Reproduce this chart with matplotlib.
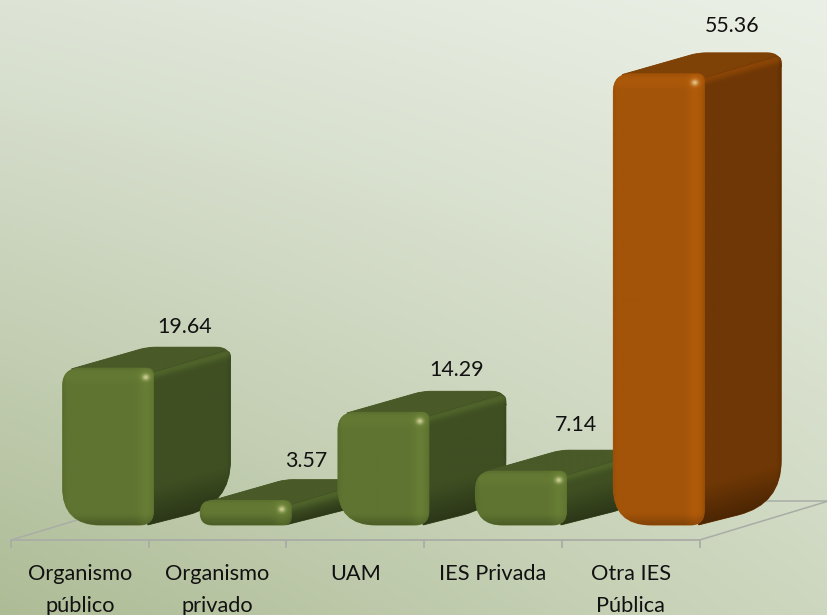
import numpy as np
import matplotlib
matplotlib.use("Agg")
import matplotlib.pyplot as plt
from matplotlib.path import Path
from matplotlib.patches import PathPatch
from matplotlib.colors import to_rgb

categories = ["Organismo\npúblico", "Organismo\nprivado", "UAM", "IES Privada", "Otra IES\nPública"]
values = [19.64, 3.57, 14.29, 7.14, 55.36]
value_labels = ["19.64", "3.57", "14.29", "7.14", "55.36"]
front_colors = ["#5F7431", "#5F7431", "#5F7431", "#5F7431", "#A35409"]
side_colors = ["#3F4F22", "#3F4F22", "#3F4F22", "#3F4F22", "#6E3705"]
top_colors = ["#4A5A28", "#4A5A28", "#4A5A28", "#4A5A28", "#7F4206"]

W, H = 827, 615
SX, SY = 137.7, 8.24      # pixels per category / per value unit
X0, Y0 = 108.0, 530.0     # pixel of category 0 / value 0
BASE = 0.6                # visual foot of the rounded bars, in value units
HALF = 45.5 / SX
DX, DY = 77 / SX, 21 / SY
LABEL_DX = [77, 60.5, 73, 55, 73]
LABEL_DY = [41, 40, 42, 46, 48]

fig = plt.figure(figsize=(W / 100, H / 100), dpi=100)
ax = fig.add_axes([0, 0, 1, 1])
ax.set_autoscale_on(False)
ax.set_xlim(-X0 / SX, (W - X0) / SX)
ax.set_ylim(-(H - Y0) / SY, Y0 / SY)
ax.axis("off")

# background gradient from the four corner tones
gy, gx = np.mgrid[0:1:200j, 0:1:200j]  # gy: 0 bottom, 1 top
tl, tr = np.array(to_rgb("#DDE4D6")), np.array(to_rgb("#EBF0E6"))
bl, br = np.array(to_rgb("#AEBC96")), np.array(to_rgb("#CDD7BF"))
gx3, gy3 = gx[..., None], gy[..., None]
bg = (bl * (1 - gx3) + br * gx3) * (1 - gy3) + (tl * (1 - gx3) + tr * gx3) * gy3
ax.imshow(bg, origin="lower", extent=[0, 1, 0, 1], transform=ax.transAxes, aspect="auto", zorder=0)


def rounded_path(pts):
    """pts: list of (x, y, r_px) polygon corners in data units; rounds each corner."""
    verts, codes = [], []
    n = len(pts)
    for k in range(n):
        p = np.array(pts[k][:2]) * [SX, SY]
        r = pts[k][2]
        a = np.array(pts[k - 1][:2]) * [SX, SY]
        b = np.array(pts[(k + 1) % n][:2]) * [SX, SY]
        ua = (a - p) / np.linalg.norm(a - p)
        ub = (b - p) / np.linalg.norm(b - p)
        s, e = p + ua * r, p + ub * r
        verts += [s, p, e]
        codes += [Path.MOVETO if k == 0 else Path.LINETO, Path.CURVE3, Path.CURVE3]
    verts.append(verts[0])
    codes.append(Path.CLOSEPOLY)
    return Path(np.array(verts) / [SX, SY], codes)


def shaded(path, color, shade, z):
    ext = path.get_extents()
    x = np.linspace(ext.x0, ext.x1, 260)
    y = np.linspace(ext.y0, ext.y1, 400)
    xx, yy = np.meshgrid(x, y)
    base = np.array(to_rgb(color))
    f = shade(xx, yy)
    img = np.clip(base * f[..., None] if f.ndim == 2 else f, 0, 1)
    ax.add_patch(PathPatch(path, fc=color, ec=color, lw=0.6, zorder=z))
    im = ax.imshow(img, origin="lower", extent=[ext.x0, ext.x1, ext.y0, ext.y1],
                   aspect="auto", zorder=z + 0.1, interpolation="bilinear")
    clip = PathPatch(path, transform=ax.transData, fc="none", ec="none")
    im.set_clip_path(clip)


def band(d, w):
    return np.clip(1 - d / w, 0, 1)


def draw_bar(i, val, fc, sc, tc, z):
    xl, xr = i - HALF, i + HALF
    hpx = (val - BASE) * SY
    rb = min(38, hpx * 0.5)
    rt = min(18, hpx * 0.5)
    rside = min(44, hpx * 0.6)

    # top face
    top = rounded_path([(xl + 8 / SX, val - 1 / SY, 2), (xl + 8 / SX + DX, val + DY, 8),
                        (xr + DX, val + DY, 14), (xr + DX, val + DY - 14 / SY, 1),
                        (xr - 4 / SX, val - 4 / SY, 1)])
    shaded(top, tc, lambda xx, yy: np.ones_like(xx), z)

    # side face
    side = rounded_path([(xr - 6 / SX, val - 6 / SY, 1), (xr + DX, val + DY - 2 / SY, 8),
                         (xr + DX, BASE + DY, rside),
                         (xr - 6 / SX, BASE, 1)])

    def side_shade(xx, yy):
        wpx = (val - (yy - (xx - xr) * DY / DX)) * SY
        bpx = ((yy - (xx - xr) * DY / DX) - BASE) * SY
        rpx = (xr + DX - xx) * SX
        f = np.ones_like(xx)
        f += 0.25 * np.exp(-((wpx - 5) / 5.0) ** 2)
        f -= 0.32 * band(bpx, min(38, hpx * 0.6))
        f -= 0.12 * band(rpx, 4)
        return f

    shaded(side, sc, side_shade, z + 0.2)

    # front face
    front = rounded_path([(xl, val, rt), (xr, val, 7), (xr, BASE, min(14, hpx * 0.35)), (xl, BASE, rb)])

    def front_shade(xx, yy):
        xp = (xr - xx) * SX
        yt = (val - yy) * SY
        yb = (yy - BASE) * SY
        xlp = (xx - xl) * SX
        f = np.ones_like(xx)
        f += 0.08 * np.exp(-((xp - 9) / 7.0) ** 2)
        f += 0.05 * np.exp(-((yt - 8) / 6.0) ** 2)
        f -= 0.20 * band(yb, 11)
        f -= 0.05 * band(yt, 3)
        f -= 0.06 * band(xlp, 4)
        f -= 0.05 * band(xp, 3)
        g = np.exp(-(((xp - 9) / 3.4) ** 2 + ((yt - 9) / 3.0) ** 2))
        rgb = np.array(to_rgb(fc)) * f[..., None]
        rgb = rgb + (np.array([0.95, 0.92, 0.72]) - rgb) * (0.72 * g)[..., None]
        return rgb

    shaded(front, fc, front_shade, z + 0.4)


# floor and category axis
floor_x = -0.704
floor_y = -10 / SY
grid_c = "#A9ADA6"
ax.plot([floor_x, floor_x + len(values)], [floor_y, floor_y], color=grid_c, lw=1.3, zorder=1)
for k in range(len(values) + 1):
    ax.plot([floor_x + k] * 2, [floor_y, floor_y - 7 / SY], color=grid_c, lw=1.3, zorder=1)
ax.plot([floor_x, floor_x + 129 / SX], [floor_y, floor_y + 39 / SY], color=grid_c, lw=1.1, zorder=1)
rx = floor_x + len(values)
ax.plot([rx, rx + 129 / SX], [floor_y, floor_y + 39 / SY], color=grid_c, lw=1.1, zorder=1)
ax.plot([rx + 50 / SX, rx + 129 / SX], [floor_y + 39 / SY] * 2, color=grid_c, lw=1.1, zorder=1)

for i, v in enumerate(values):
    draw_bar(i, v, front_colors[i], side_colors[i], top_colors[i], 2 + i)

font = "Lato"
for i, cat in enumerate(categories):
    ax.text(floor_x + i + 0.5, -(564.5 - Y0) / SY, cat, ha="center", va="top",
            fontsize=15.7, family=font, color="#111111", linespacing=1.74, zorder=20)
for i, (v, lab) in enumerate(zip(values, value_labels)):
    ax.text(i + LABEL_DX[i] / SX, v + LABEL_DY[i] / SY, lab, ha="center", va="center",
            fontsize=15.4, family=font, color="#111111", zorder=20)

fig.savefig("out.png", dpi=100)
